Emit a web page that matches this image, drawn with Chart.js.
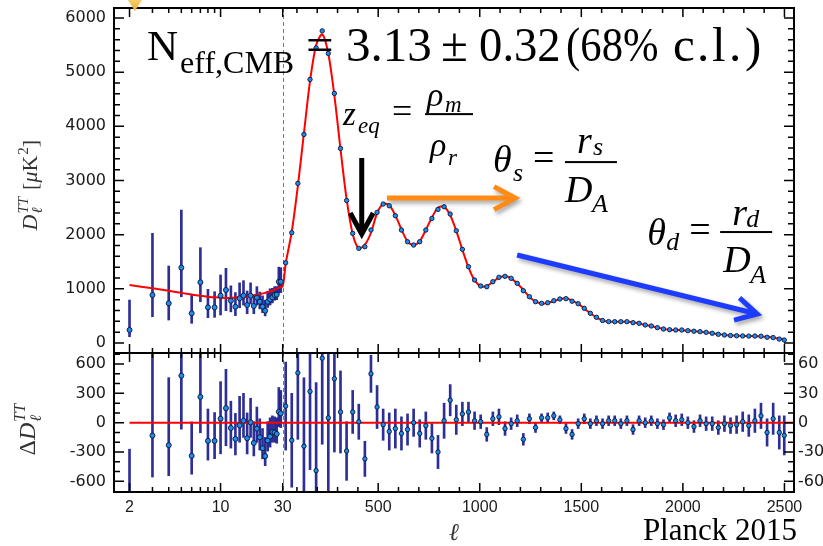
<!DOCTYPE html>
<html>
<head>
<meta charset="utf-8">
<script src="https://cdn.jsdelivr.net/npm/chart.js@4/dist/chart.umd.min.js"></script>
<style>
  html, body { margin: 0; padding: 0; background: #fff; overflow: hidden; }
  #wrap { position: relative; width: 823px; height: 546px; }
  #wrap canvas { position: absolute; left: 0; top: 0; }
</style>
</head>
<body>
<div id="wrap">
  <canvas id="spec" width="823" height="546"></canvas>
  <canvas id="resid" width="823" height="546"></canvas>
</div>
<script>
// ---- low multipoles (unbinned), l = 2..29 ----
const lowEll  = [2, 3, 4, 5, 6, 7, 8, 9, 10, 11, 12, 13, 14, 15, 16, 17, 18, 19, 20, 21, 22, 23, 24, 25, 26, 27, 28, 29];
const lowD    = [240, 886, 732, 1390, 548, 1120, 658, 658, 873, 978, 781, 669, 824, 873, 701, 873, 683, 836, 762, 670, 596, 762, 806, 843, 886, 892, 1131, 1131];
const lowDLo  = [116, 485, 424, 854, 363, 762, 467, 474, 517, 596, 575, 505, 650, 700, 540, 720, 540, 700, 630, 560, 500, 655, 700, 740, 790, 800, 920, 930];
const lowDHi  = [793, 2024, 1421, 2454, 898, 1759, 990, 946, 1255, 1378, 1055, 930, 1110, 1150, 960, 1110, 890, 1040, 940, 870, 790, 955, 1000, 1010, 1040, 1040, 1400, 1390];
const lowRes   = [-830, -132, -230, 481, -339, 264, -186, -186, 41, 149, -54, -166, -27, 20, -159, 3, -207, -61, -149, -261, -342, -183, -142, -95, -100, -115, 112, 95];
const lowResLo = [-1000, -556, -542, -66, -527, -103, -383, -368, -318, -236, -260, -330, -200, -150, -320, -150, -340, -200, -280, -370, -440, -290, -250, -200, -200, -210, -40, -50];
const lowResHi = [-271, 1010, 461, 1534, 8, 894, 140, 104, 420, 546, 220, 95, 270, 300, 100, 250, 10, 160, 40, -60, -150, 10, 50, 70, 60, 50, 360, 330];

// ---- binned multipoles (delta l = 30) ----
const binEll = [44.5, 74.5, 104.5, 134.5, 164.5, 194.5, 224.5, 254.5, 284.5, 314.5,
  344.5, 374.5, 404.5, 434.5, 464.5, 494.5, 524.5, 554.5, 584.5, 614.5,
  644.5, 674.5, 704.5, 734.5, 764.5, 794.5, 824.5, 854.5, 884.5, 914.5,
  944.5, 974.5, 1004.5, 1034.5, 1064.5, 1094.5, 1124.5, 1154.5, 1184.5, 1214.5,
  1244.5, 1274.5, 1304.5, 1334.5, 1364.5, 1394.5, 1424.5, 1454.5, 1484.5, 1514.5,
  1544.5, 1574.5, 1604.5, 1634.5, 1664.5, 1694.5, 1724.5, 1754.5, 1784.5, 1814.5,
  1844.5, 1874.5, 1904.5, 1934.5, 1964.5, 1994.5, 2024.5, 2054.5, 2084.5, 2114.5,
  2144.5, 2174.5, 2204.5, 2234.5, 2264.5, 2294.5, 2324.5, 2354.5, 2384.5, 2414.5,
  2444.5, 2474.5, 2499];
const binD = [1480, 2035, 2946, 3850, 4865, 5448, 5762, 5345, 4607, 3592,
  2630, 2024, 1747, 1777, 2085, 2411, 2565, 2533, 2349, 2085,
  1869, 1808, 1869, 2085, 2300, 2466, 2515, 2380, 2072, 1729,
  1408, 1162, 1052, 1039, 1131, 1212, 1230, 1193, 1101, 965,
  854, 762, 732, 743, 780, 812, 818, 771, 725, 640,
  548, 474, 415, 395, 393, 393, 393, 375, 363, 332,
  314, 283, 258, 245, 240, 240, 227, 217, 209, 196,
  179, 160, 148, 137, 133, 130, 127, 128, 125, 105,
  100, 72, 55];
const binRes = [17, -18, 51, -24, 32, -49, 66, 5, 45, 11,
  -29, 11, 1, -37, 50, 16, -2, -9, -6, -11,
  -7, 0, -11, -3, -16, -30, 2, 23, 3, 9,
  11, 2, 1, -12, 4, 6, -6, -1, 2, -17,
  4, -5, 5, 5, 7, 3, -6, -12, -1, 4,
  -1, 2, -1, 2, 2, -1, 2, -7, 2, 0,
  2, -1, -2, 5, 2, 3, 0, -4, 2, -1,
  -1, -5, -1, -3, -2, 1, -3, 2, 7, -10,
  4, -10, -13];
const binErr = [45, 48, 68, 70, 80, 90, 88, 85, 75, 42,
  30, 22, 18, 18, 19, 22, 16, 19, 20, 17,
  16, 14, 14, 14, 15, 17, 18, 16, 15, 12,
  10, 9, 7, 7, 7, 8, 7, 6, 6, 6,
  5, 5, 4, 5, 4, 4, 5, 5, 5, 5,
  5, 5, 5, 5, 5, 5, 5, 5, 5, 5,
  5, 5, 5, 5, 6, 6, 6, 6, 6, 7,
  7, 7, 8, 8, 9, 10, 11, 12, 13, 14,
  16, 17, 20];

// ---- best-fit LCDM curve ----
const modelLowEll = [2, 3, 4, 5, 6, 7, 8, 9, 10, 12, 14, 16, 18, 20, 22, 24, 26, 28, 30];
const modelLowD   = [1070, 1010, 965, 925, 895, 870, 855, 843, 835, 832, 842, 858, 878, 900, 925, 950, 985, 1020, 1050];
const modelBinD = [1463, 2053, 2895, 3874, 4833, 5497, 5696, 5340, 4562, 3581,
  2659, 2013, 1746, 1814, 2035, 2395, 2567, 2542, 2355, 2096,
  1876, 1808, 1880, 2088, 2316, 2496, 2513, 2357, 2069, 1720,
  1397, 1160, 1051, 1051, 1127, 1206, 1236, 1194, 1099, 982,
  850, 767, 727, 738, 773, 809, 824, 783, 726, 636,
  549, 472, 416, 393, 391, 394, 391, 382, 361, 332,
  312, 284, 260, 240, 238, 237, 227, 221, 207, 197,
  180, 165, 149, 140, 135, 129, 130, 126, 118, 115,
  96, 82, 68];

// ---- axes ----
const xTickVals = [2, 10, 30, 500, 1000, 1500, 2000, 2500];
const specTicks = [0, 1000, 2000, 3000, 4000, 5000, 6000];
const resLowTicks = [-600, -300, 0, 300, 600];
const resHighTicks = [-60, -30, 0, 30, 60];

const ellMin = 1.52, ellSplit = 30, ellMax = 2547, splitFrac = 0.2481;

// log in l below 30, linear above
class HybridScale extends Chart.LinearScale {
  frac(v) {
    const o = this.options;
    if (v <= o.split) return o.splitFrac * Math.log(v / o.min) / Math.log(o.split / o.min);
    return o.splitFrac + (1 - o.splitFrac) * (v - o.split) / (o.max - o.split);
  }
  buildTicks() {
    this.start = this.min;
    this.end = this.max;
    return xTickVals.map(v => ({ value: v }));
  }
  getPixelForValue(v) { return this.getPixelForDecimal(this.frac(v)); }
  getValueForPixel(p) {
    const o = this.options, t = this.getDecimalForPixel(p);
    if (t <= o.splitFrac) return o.min * Math.pow(o.split / o.min, t / o.splitFrac);
    return o.split + (t - o.splitFrac) / (1 - o.splitFrac) * (o.max - o.split);
  }
}
HybridScale.id = 'hybrid';
Chart.register(HybridScale);

// tick marks (drawn inward, like the original frame)
const xMarks = [];
[2, 3, 4, 5, 6, 7, 8, 9, 10, 20, 30].forEach(v => xMarks.push([v, v === 2 || v === 10 || v === 30]));
for (let v = 100; v <= 2500; v += 100) xMarks.push([v, v % 500 === 0]);
const marks = (lo, hi, step, major) => {
  const out = [];
  for (let v = lo; v <= hi; v += step) out.push([v, v % major === 0]);
  return out;
};

const SERIF = '"Liberation Serif", "Times New Roman", serif';
function put(ctx, s, x, y, size, italic, align, squeeze) {
  ctx.font = (italic ? 'italic ' : '') + size + 'px ' + SERIF;
  ctx.textAlign = align || 'left';
  ctx.textBaseline = 'alphabetic';
  if (squeeze) {
    ctx.save();
    ctx.translate(x, y);
    ctx.scale(squeeze, 1);
    ctx.fillText(s, 0, 0);
    ctx.restore();
  } else {
    ctx.fillText(s, x, y);
  }
  return ctx.measureText(s).width * (squeeze || 1);
}

function framePlugin(yAxes) {
  return {
    id: 'frame',
    beforeDatasetsDraw(chart) {
      const { ctx, chartArea: a, scales } = chart;
      const px = Math.round(scales.x.getPixelForValue(ellSplit)) + 0.5;
      ctx.save();
      ctx.strokeStyle = '#7a7a7a';
      ctx.lineWidth = 1;
      ctx.setLineDash([4, 3]);
      ctx.beginPath();
      ctx.moveTo(px, a.top);
      ctx.lineTo(px, a.bottom);
      ctx.stroke();
      ctx.restore();
    },
    afterDatasetsDraw(chart) {
      const { ctx, chartArea: a, scales } = chart;
      ctx.save();
      ctx.strokeStyle = '#000';
      ctx.lineWidth = 1.5;
      ctx.beginPath();
      xMarks.forEach(([v, major]) => {
        const px = scales.x.getPixelForValue(v), len = major ? 9 : 5;
        ctx.moveTo(px, a.top); ctx.lineTo(px, a.top + len);
        ctx.moveTo(px, a.bottom); ctx.lineTo(px, a.bottom - len);
      });
      yAxes.forEach(ax => {
        const s = scales[ax.id];
        ax.marks.forEach(([v, major]) => {
          const py = s.getPixelForValue(v), len = major ? 10 : 6;
          if (py < a.top + 1 || py > a.bottom - 1) return;
          if (ax.left) { ctx.moveTo(a.left, py); ctx.lineTo(a.left + len, py); }
          if (ax.right) { ctx.moveTo(a.right, py); ctx.lineTo(a.right - len, py); }
        });
      });
      ctx.stroke();
      ctx.lineWidth = 2;
      ctx.strokeRect(a.left, a.top, a.width, a.height);
      ctx.restore();
    }
  };
}

function arrow(ctx, p0, p1, color, shadow) {
  const ang = Math.atan2(p1[1] - p0[1], p1[0] - p0[0]);
  const head = 24, spread = 0.5, w = 5;
  ctx.save();
  ctx.strokeStyle = color;
  ctx.lineWidth = w;
  ctx.lineJoin = 'miter';
  ctx.lineCap = 'butt';
  if (shadow) {
    ctx.shadowColor = 'rgba(0,0,0,0.35)';
    ctx.shadowBlur = 4;
    ctx.shadowOffsetX = 2;
    ctx.shadowOffsetY = 3;
  }
  ctx.beginPath();
  ctx.moveTo(p0[0], p0[1]);
  ctx.lineTo(p1[0] - Math.cos(ang) * 3, p1[1] - Math.sin(ang) * 3);
  ctx.moveTo(p1[0] - head * Math.cos(ang - spread), p1[1] - head * Math.sin(ang - spread));
  ctx.lineTo(p1[0], p1[1]);
  ctx.lineTo(p1[0] - head * Math.cos(ang + spread), p1[1] - head * Math.sin(ang + spread));
  ctx.stroke();
  ctx.restore();
}

// annotations, anchored in (l, D_l) data coordinates
const notes = {
  nEff: [2.73, 5224],
  zEq: [327, 4022],
  thetaS: [1065, 3155],
  thetaD: [1824, 1808],
  star: 2.2,
  arrowBlack: [[419, 3413], [419, 2011]],
  arrowOrange: [[543, 2675], [1174, 2675]],
  arrowBlue: [[1184, 1624], [2366, 535]]
};
// pieces of the N_eff line: [text, x offset from the "N", horizontal squeeze]
const nEffPieces = [['=', 159, 1], ['3.13', 199, 1], ['±', 294, 1], ['0.32', 332, 0.95], ['(68%', 419, 0.87],
  ['c', 526, 1], ['.', 550, 1], ['l', 565, 1], ['.', 582, 1], [')', 598, 1]];

const notesPlugin = {
  id: 'notes',
  afterDatasetsDraw(chart) {
    const { ctx, chartArea: a, scales: { x, y } } = chart;
    const P = (d) => [x.getPixelForValue(d[0]), y.getPixelForValue(d[1])];
    ctx.save();
    ctx.fillStyle = '#000';

    let [ax, ay] = P(notes.nEff);
    put(ctx, 'N', ax, ay, 43);
    put(ctx, 'eff,CMB', ax + 33, ay + 13, 32);
    nEffPieces.forEach(([s, dx, sq]) => put(ctx, s, ax + dx, ay + 1, 49, false, 'left', sq));

    [ax, ay] = P(notes.zEq);
    put(ctx, 'z', ax, ay, 33, true);
    put(ctx, 'eq', ax + 15, ay + 8, 23, true);
    put(ctx, '=', ax + 49, ay - 2, 36);
    ctx.fillRect(ax + 82, ay - 12, 48, 2);
    put(ctx, 'ρ', ax + 84, ay - 19, 34, true);
    put(ctx, 'm', ax + 102, ay - 13, 23, true);
    put(ctx, 'ρ', ax + 87, ay + 31, 34, true);
    put(ctx, 'r', ax + 105, ay + 40, 23, true);

    [ax, ay] = P(notes.thetaS);
    put(ctx, 'θ', ax, ay, 38, true);
    put(ctx, 's', ax + 20, ay + 9, 26, true);
    put(ctx, '=', ax + 40, ay - 2, 38);
    ctx.fillRect(ax + 72, ay - 11, 52, 2);
    put(ctx, 'r', ax + 84, ay - 19, 38, true);
    put(ctx, 's', ax + 100, ay - 17, 26, true);
    put(ctx, 'D', ax + 72, ay + 30, 38, true);
    put(ctx, 'A', ax + 99, ay + 40, 26, true);

    [ax, ay] = P(notes.thetaD);
    put(ctx, 'θ', ax, ay, 38, true);
    put(ctx, 'd', ax + 19, ay + 5, 26, true);
    put(ctx, '=', ax + 42, ay - 3, 38);
    ctx.fillRect(ax + 73, ay - 14, 52, 2);
    put(ctx, 'r', ax + 85, ay - 20, 38, true);
    put(ctx, 'd', ax + 99, ay - 18, 26, true);
    put(ctx, 'D', ax + 76, ay + 27, 38, true);
    put(ctx, 'A', ax + 103, ay + 38, 26, true);

    arrow(ctx, P(notes.arrowBlack[0]), P(notes.arrowBlack[1]), '#000', false);
    arrow(ctx, P(notes.arrowOrange[0]), P(notes.arrowOrange[1]), '#ff8a14', true);
    arrow(ctx, P(notes.arrowBlue[0]), P(notes.arrowBlue[1]), '#1e3cff', true);

    // the tip of a star peeking in above the frame
    const sx = x.getPixelForValue(notes.star);
    const g = ctx.createLinearGradient(0, 0, 0, a.top + 3);
    g.addColorStop(0, '#f6cf6a');
    g.addColorStop(1, '#e9a93a');
    ctx.fillStyle = g;
    ctx.beginPath();
    ctx.moveTo(sx - 7, 0);
    ctx.lineTo(sx + 7, 0);
    ctx.lineTo(sx, a.top + 3);
    ctx.closePath();
    ctx.fill();

    // y-axis title
    const cy = (a.top + a.bottom) / 2;
    ctx.fillStyle = '#333';
    ctx.translate(a.left - 77, cy + 50);
    ctx.rotate(-Math.PI / 2);
    let p = 0;
    p += put(ctx, 'D', p, 0, 22, true);
    const sup = put(ctx, 'TT', p + 1, -9, 15, true);
    put(ctx, 'ℓ', p + 1, 5, 15, true);
    p += sup + 8;
    p += put(ctx, '[', p, 0, 22);
    p += put(ctx, 'μ', p, 0, 22, true);
    p += put(ctx, 'K', p, 0, 22);
    p += put(ctx, '2', p + 1, -9, 15) + 1;
    put(ctx, ']', p, 0, 22);
    ctx.restore();
  }
};

const residTextPlugin = {
  id: 'residText',
  afterDraw(chart) {
    const { ctx, chartArea: a } = chart;
    ctx.save();
    ctx.fillStyle = '#333';
    put(ctx, 'ℓ', (a.left + a.right) / 2, 540, 24, true, 'center');
    ctx.fillStyle = '#000';
    put(ctx, 'Planck 2015', a.right + 3, 540, 31, false, 'right');
    ctx.fillStyle = '#333';
    ctx.translate(a.left - 79, (a.top + a.bottom) / 2 + 33);
    ctx.rotate(-Math.PI / 2);
    let p = 0;
    p += put(ctx, 'Δ', p, 0, 24);
    p += put(ctx, 'D', p, 0, 24, true);
    put(ctx, 'TT', p + 1, -10, 16, true);
    put(ctx, 'ℓ', p + 1, 6, 16, true);
    ctx.restore();
  }
};

const xAxis = (show) => ({
  type: 'hybrid', min: ellMin, max: ellMax, split: ellSplit, splitFrac: splitFrac,
  offset: false, display: show,
  grid: { display: false, drawTicks: false }, border: { display: false },
  ticks: {
    autoSkip: false, maxRotation: 0, padding: 6, color: '#1a1a1a',
    font: { family: '"Liberation Sans", Arial, sans-serif', size: 16 },
    callback: v => String(v)
  },
  afterFit: s => { s.height = show ? 54 : 0; s.paddingLeft = 0; s.paddingRight = 0; }
});
const yAxis = (pos, lo, hi, ticks, width) => ({
  type: 'linear', position: pos, min: lo, max: hi,
  grid: { display: false, drawTicks: false }, border: { display: false },
  afterBuildTicks: s => { s.ticks = ticks.map(v => ({ value: v })); },
  afterFit: s => { s.width = width; s.paddingTop = 0; s.paddingBottom = 0; },
  ticks: {
    autoSkip: false, padding: pos === 'left' ? 8 : 4, color: '#1a1a1a',
    font: { family: '"DejaVu Sans", sans-serif', size: 16 },
    callback: v => String(v)
  }
});

const pts = (data, r, yId) => ({
  type: 'line', data, yAxisID: yId, showLine: false, order: 1, clip: 0,
  pointRadius: r, pointBackgroundColor: '#1c8cf0', pointBorderColor: '#0b1633', pointBorderWidth: 0.9
});
const bars = (data, yId) => ({
  type: 'bar', data, yAxisID: yId, order: 3, clip: 0, grouped: false,
  barThickness: 2, backgroundColor: 'rgba(22,24,140,0.9)', borderWidth: 0
});

// ---- upper panel: D_l ----
new Chart(document.getElementById('spec'), {
  type: 'line',
  data: {
    datasets: [
      {
        type: 'line', yAxisID: 'y', order: 2, pointRadius: 0, borderColor: '#ff0000', borderWidth: 2, tension: 0.3,
        data: modelLowEll.map((l, i) => ({ x: l, y: modelLowD[i] }))
          .concat(binEll.map((l, i) => ({ x: l, y: modelBinD[i] })))
      },
      bars(lowEll.map((l, i) => ({ x: l, y: [lowDLo[i], lowDHi[i]] })), 'y'),
      pts(lowEll.map((l, i) => ({ x: l, y: lowD[i] })), 2.5, 'y'),
      pts(binEll.map((l, i) => ({ x: l, y: binD[i] })), 2.2, 'y')
    ]
  },
  options: {
    responsive: false, animation: false, events: [],
    layout: { padding: { top: 8, right: 29, bottom: 193, left: 0 } },
    plugins: { legend: { display: false }, tooltip: { enabled: false } },
    scales: {
      x: xAxis(false),
      y: yAxis('left', -185, 6184, specTicks, 114)
    }
  },
  plugins: [framePlugin([{ id: 'y', marks: marks(0, 6000, 200, 1000), left: true, right: true }]), notesPlugin]
});

// ---- lower panel: residuals ----
new Chart(document.getElementById('resid'), {
  type: 'line',
  data: {
    datasets: [
      {
        type: 'line', yAxisID: 'yL', order: 2, pointRadius: 0, borderColor: '#ff0000', borderWidth: 2, clip: 0,
        data: [{ x: lowEll[0], y: 0 }, { x: ellMax, y: 0 }]
      },
      bars(lowEll.map((l, i) => ({ x: l, y: [lowResLo[i], lowResHi[i]] })), 'yL'),
      bars(binEll.map((l, i) => ({ x: l, y: [binRes[i] - binErr[i], binRes[i] + binErr[i]] })), 'yR'),
      pts(lowEll.map((l, i) => ({ x: l, y: lowRes[i] })), 2.5, 'yL'),
      pts(binEll.map((l, i) => ({ x: l, y: binRes[i] })), 2.2, 'yR')
    ]
  },
  options: {
    responsive: false, animation: false, events: [],
    layout: { padding: { top: 353, right: 0, bottom: 0, left: 0 } },
    plugins: { legend: { display: false }, tooltip: { enabled: false } },
    scales: {
      x: xAxis(true),
      yL: yAxis('left', -709, 713, resLowTicks, 114),
      yR: yAxis('right', -70.9, 71.3, resHighTicks, 29)
    }
  },
  plugins: [framePlugin([
    { id: 'yL', marks: marks(-700, 700, 100, 300), left: true },
    { id: 'yR', marks: marks(-70, 70, 10, 30), right: true }
  ]), residTextPlugin]
});
</script>
</body>
</html>
